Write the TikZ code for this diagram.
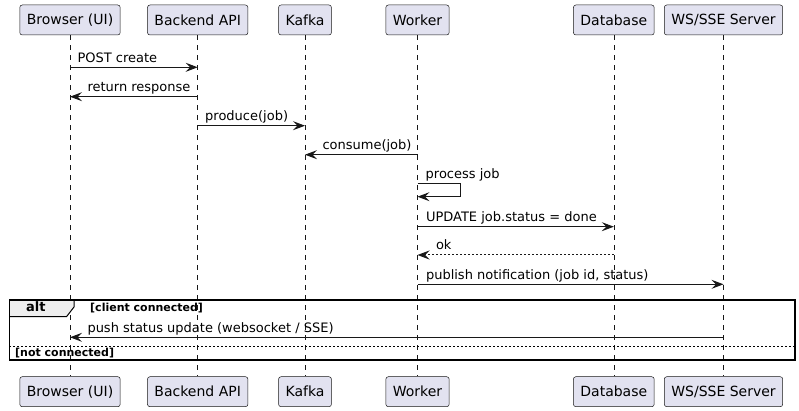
\documentclass[tikz,border=0pt]{standalone}
\usepackage{fontspec}
\setmainfont{DejaVu Sans}
\usetikzlibrary{arrows.meta}

\definecolor{partfill}{HTML}{E2E2F0}
\definecolor{lineclr}{HTML}{181818}
\definecolor{tabfill}{HTML}{EEEEEE}

\tikzset{
  part/.style={draw=lineclr, line width=0.5pt, fill=partfill, rounded corners=2.5pt,
    minimum height=30pt, inner xsep=7pt, inner ysep=0pt, font=\fontsize{14}{16}\selectfont},
  lifeline/.style={draw=lineclr, line width=0.5pt, dash pattern=on 5pt off 5pt},
  msg/.style={draw=lineclr, line width=1pt, -{Stealth[length=12pt, width=9pt, inset=4.5pt]}},
  reply/.style={msg, dash pattern=on 2pt off 2pt},
  lbl/.style={font=\fontsize{13}{15}\selectfont, inner sep=0pt},
  guard/.style={font=\bfseries\fontsize{11}{13}\selectfont, inner sep=0pt, anchor=base west}
}

\begin{document}
\begin{tikzpicture}[x=1pt, y=-1pt]
		\useasboundingbox (0,0) rectangle (799,411);

		%participants, top and bottom
		\foreach \p/\x/\t in {browser/70/Browser (UI), backend/197.7/Backend API, kafka/305/Kafka,
		  worker/417.5/Worker, database/613.8/Database, server/723.5/{WS/SSE Server}}
		{
			\node[part] (\p) at (\x,20) {\t};
			\node[part] (\p-bot) at (\x,391.7) {\t};
		}

		%draw lifelines
		\foreach \p in {browser,backend,kafka,worker,database,server}
		\draw[lifeline] (\p.south) -- (\p-bot.north);

		%messages
		\draw[msg] (browser |- 0,67.3) -- (backend |- 0,67.3)
		  node[lbl, pos=0, anchor=base west, xshift=7pt, yshift=5pt] {POST create};
		\draw[msg] (backend |- 0,96.7) -- (browser |- 0,96.7)
		  node[lbl, pos=1, anchor=base west, xshift=17pt, yshift=5pt] {return response};
		\draw[msg] (backend |- 0,125.7) -- (kafka |- 0,125.7)
		  node[lbl, pos=0, anchor=base west, xshift=7pt, yshift=5pt] {produce(job)};
		\draw[msg] (worker |- 0,154.7) -- (kafka |- 0,154.7)
		  node[lbl, pos=1, anchor=base west, xshift=17pt, yshift=5pt] {consume(job)};

		%self message
		\draw[msg] (worker |- 0,183.3) -- ++(43,0) -- ++(0,13.4) -- (worker |- 0,196.7);
		\node[lbl, anchor=base west] (proc) at ([xshift=8pt, yshift=5pt]worker |- 0,183.3) {process job};

		\draw[msg] (worker |- 0,226.7) -- (database |- 0,226.7)
		  node[lbl, pos=0, anchor=base west, xshift=8pt, yshift=5pt] {UPDATE job.status = done};
		\draw[reply] (database |- 0,255) -- (worker |- 0,255)
		  node[lbl, pos=1, anchor=base west, xshift=18pt, yshift=5pt] {ok};
		\draw[msg] (worker |- 0,284.3) -- (server |- 0,284.3)
		  node[lbl, pos=0, anchor=base west, xshift=8pt, yshift=5pt] {publish notification (job id, status)};

		%alt frame
		\draw[fill=tabfill, line width=1pt] (9.3,300) -- (74,300) -- (74,307) -- (66.5,316.7) -- (9.3,316.7);
		\draw[line width=1.5pt] (9.3,300) rectangle (795,360);
		\node[font=\bfseries\fontsize{13}{15}\selectfont, inner sep=0pt, anchor=base west] (alt) at (26,311.7) {alt};
		\node[guard] (g1) at (90,311) {[client connected]};
		\draw[msg] (server |- 0,337.3) -- (browser |- 0,337.3)
		  node[lbl, pos=1, anchor=base west, xshift=17pt, yshift=5pt] {push status update (websocket / SSE)};
		\draw[line width=0.8pt, dash pattern=on 2pt off 2pt] (9.3,346.7) -- (795,346.7);
		\node[guard] (g2) at (15,356.5) {[not connected]};

	\end{tikzpicture}
\end{document}
